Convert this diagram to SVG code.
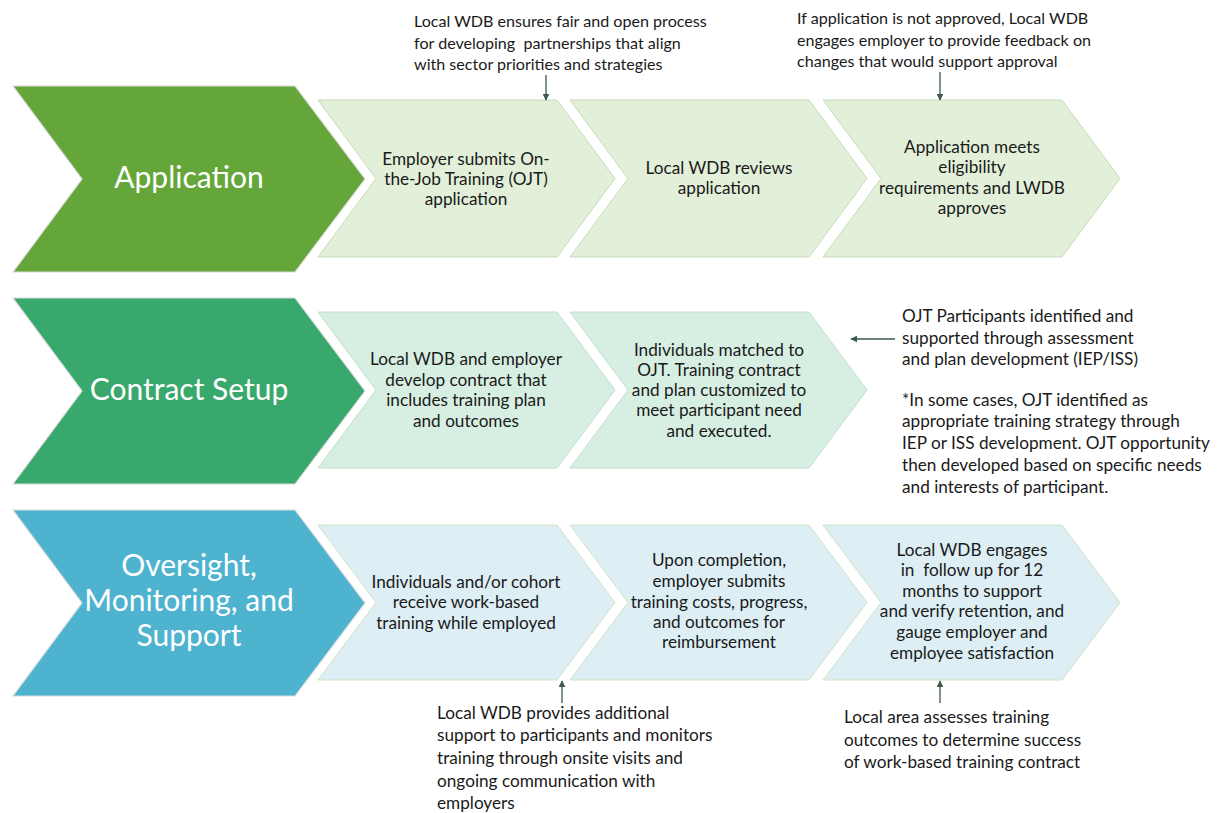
<svg xmlns="http://www.w3.org/2000/svg" width="1217" height="813" viewBox="0 0 1217 813">
<defs>
<style>
text{white-space:pre}
.t{font-family:Lato,"Liberation Sans",sans-serif;font-size:17.2px;fill:#1a1a1a}
.tt{font-family:Lato,"Liberation Sans",sans-serif;font-size:16.1px;fill:#1a1a1a}
.c{text-anchor:middle}
.big{font-family:Lato,"Liberation Sans",sans-serif;font-size:30px;fill:#ffffff;text-anchor:middle}
.bg{stroke:#dcdcdc;stroke-width:1.2}
.s1{fill:#e2efd9;stroke:#c8dab9;stroke-width:1}
.s2{fill:#d7eee2;stroke:#c4dfcc;stroke-width:1}
.s3{fill:#ddeef4;stroke:#d3e2bf;stroke-width:1}
.ar{stroke:#3d5a4c;stroke-width:1.3;fill:none;marker-end:url(#ah)}
</style>
<marker id="ah" viewBox="0 0 10 10" refX="9" refY="5" markerWidth="7" markerHeight="7" markerUnits="userSpaceOnUse" orient="auto">
<path d="M0,0 L10,5 L0,10 z" fill="#3d5a4c"/>
</marker>
</defs>
<rect width="1217" height="813" fill="#ffffff"/>

<g id="application">
<polygon class="bg" fill="#64a63a" points="13,86 295,86 365,179 295,272 13,272 82,179"/>
<text class="big" x="189" y="188">Application</text>
</g>
<g id="contract-setup">
<polygon class="bg" fill="#39a86d" points="13,298 295,298 365,391 295,484 13,484 82,391"/>
<text class="big" x="189" y="400">Contract Setup</text>
</g>
<g id="oversight">
<polygon class="bg" fill="#4db3cf" points="13,510 295,510 365,603 295,696 13,696 82,603"/>
<text class="big" x="189" y="576">Oversight,</text>
<text class="big" x="189" y="611">Monitoring, and</text>
<text class="big" x="189" y="646">Support</text>
</g>

<g id="app-step1">
<polygon class="s1" points="318,100 557,100 615,178.5 557,257 318,257 376,178.5"/>
<text class="t c" x="466" y="165">Employer submits On-</text>
<text class="t c" x="466" y="185">the-Job Training (OJT)</text>
<text class="t c" x="466" y="205">application</text>
</g>
<g id="app-step2">
<polygon class="s1" points="570,100 809,100 867,178.5 809,257 570,257 628,178.5"/>
<text class="t c" x="719" y="174">Local WDB reviews</text>
<text class="t c" x="719" y="194">application</text>
</g>
<g id="app-step3">
<polygon class="s1" points="823,100 1062,100 1120,178.5 1062,257 823,257 881,178.5"/>
<text class="t c" x="972" y="153">Application meets</text>
<text class="t c" x="972" y="173">eligibility</text>
<text class="t c" x="972" y="194">requirements and LWDB</text>
<text class="t c" x="972" y="214">approves</text>
</g>

<g id="contract-step1">
<polygon class="s2" points="318,312 557,312 615,390 557,468 318,468 376,390"/>
<text class="t c" x="466" y="365">Local WDB and employer</text>
<text class="t c" x="466" y="386">develop contract that</text>
<text class="t c" x="466" y="406">includes training plan</text>
<text class="t c" x="466" y="427">and outcomes</text>
</g>
<g id="contract-step2">
<polygon class="s2" points="570,312 809,312 867,390 809,468 570,468 628,390"/>
<text class="t c" x="719" y="356">Individuals matched to</text>
<text class="t c" x="719" y="376">OJT. Training contract</text>
<text class="t c" x="719" y="396">and plan customized to</text>
<text class="t c" x="719" y="416">meet participant need</text>
<text class="t c" x="719" y="437">and executed.</text>
</g>

<g id="oversight-step1">
<polygon class="s3" points="318,525 557,525 615,602.5 557,680 318,680 376,602.5"/>
<text class="t c" x="466" y="588">Individuals and/or cohort</text>
<text class="t c" x="466" y="608">receive work-based</text>
<text class="t c" x="466" y="629">training while employed</text>
</g>
<g id="oversight-step2">
<polygon class="s3" points="570,525 809,525 867,602.5 809,680 570,680 628,602.5"/>
<text class="t c" x="719" y="566">Upon completion,</text>
<text class="t c" x="719" y="587">employer submits</text>
<text class="t c" x="719" y="608">training costs, progress,</text>
<text class="t c" x="719" y="628">and outcomes for</text>
<text class="t c" x="719" y="648">reimbursement</text>
</g>
<g id="oversight-step3">
<polygon class="s3" points="823,525 1062,525 1120,602.5 1062,680 823,680 881,602.5"/>
<text class="t c" x="972" y="556">Local WDB engages</text>
<text class="t c" x="972" y="576">in  follow up for 12</text>
<text class="t c" x="972" y="597">months to support</text>
<text class="t c" x="972" y="617">and verify retention, and</text>
<text class="t c" x="972" y="638">gauge employer and</text>
<text class="t c" x="972" y="659">employee satisfaction</text>
</g>

<g id="note-fair-process">
<text class="tt" x="414" y="27">Local WDB ensures fair and open process</text>
<text class="tt" x="414" y="49">for developing  partnerships that align</text>
<text class="tt" x="414" y="70">with sector priorities and strategies</text>
</g>
<g id="note-not-approved">
<text class="tt" x="797" y="24">If application is not approved, Local WDB</text>
<text class="tt" x="797" y="46">engages employer to provide feedback on</text>
<text class="tt" x="797" y="67">changes that would support approval</text>
</g>
<g id="note-participants">
<text class="t" x="902" y="322">OJT Participants identified and</text>
<text class="t" x="902" y="344">supported through assessment</text>
<text class="t" x="902" y="365">and plan development (IEP/ISS)</text>
<text class="t" x="902" y="406">*In some cases, OJT identified as</text>
<text class="t" x="902" y="427">appropriate training strategy through</text>
<text class="t" x="902" y="449">IEP or ISS development. OJT opportunity</text>
<text class="t" x="902" y="471">then developed based on specific needs</text>
<text class="t" x="902" y="493">and interests of participant.</text>
</g>
<g id="note-support">
<text class="t" x="437" y="719">Local WDB provides additional</text>
<text class="t" x="437" y="741">support to participants and monitors</text>
<text class="t" x="437" y="764">training through onsite visits and</text>
<text class="t" x="437" y="787">ongoing communication with</text>
<text class="t" x="437" y="809">employers</text>
</g>
<g id="note-assess">
<text class="t" x="844" y="723">Local area assesses training</text>
<text class="t" x="844" y="746">outcomes to determine success</text>
<text class="t" x="844" y="768">of work-based training contract</text>
</g>

<g id="connectors">
<line class="ar" x1="546" y1="75" x2="546" y2="100"/>
<line class="ar" x1="940" y1="72" x2="940" y2="100"/>
<line class="ar" x1="895" y1="339" x2="851" y2="339"/>
<line class="ar" x1="562" y1="703" x2="562" y2="681"/>
<line class="ar" x1="940" y1="703" x2="940" y2="681"/>
</g>
</svg>
